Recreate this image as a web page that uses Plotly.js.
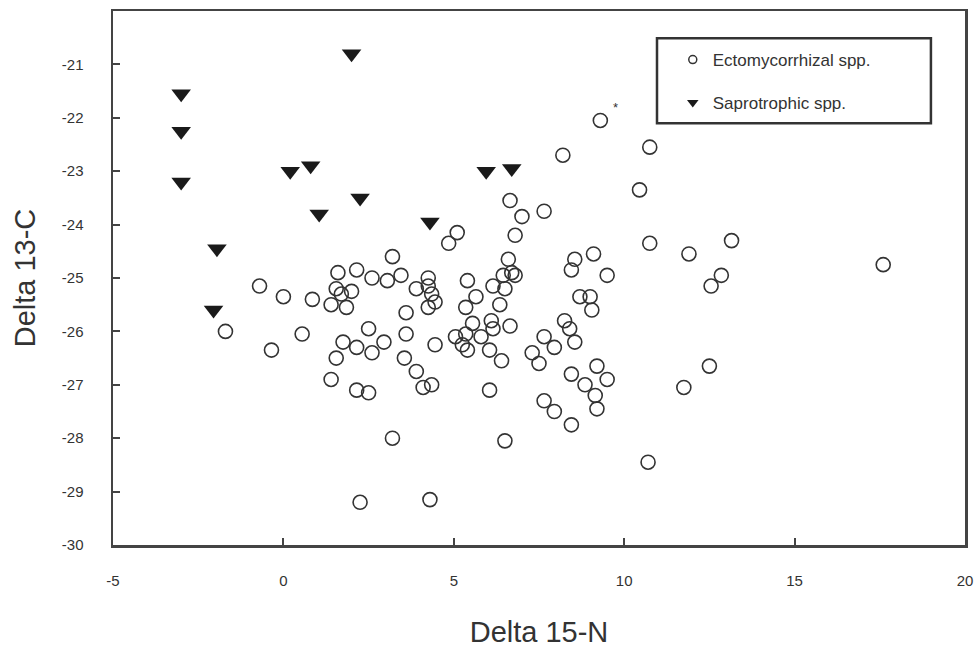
<!DOCTYPE html>
<html>
<head>
<meta charset="utf-8">
<script src="https://cdn.plot.ly/plotly-3.0.1.min.js"></script>
<style>html,body{margin:0;padding:0;background:#fff;}#chart{width:979px;height:651px;}</style>
</head>
<body>
<div id="chart"></div>
<script>
// Ectomycorrhizal spp. (Delta 15-N, Delta 13-C)
const ectoN = [9.3, 8.2, 10.75, 10.45, 6.65, 7.65, 7.0, 6.8, 5.1, 4.85, 3.2, 10.75, 9.1, 8.55, 8.45, 9.5, 13.15, 11.9, 17.6, 12.85, 12.55, 12.5, 11.75, 10.7,
  -0.7, 0.0, 0.85, -1.7, 0.55, -0.35, 1.6, 2.15, 2.6, 3.05, 3.45, 1.55, 1.7, 2.0, 1.4, 1.85, 2.5, 2.95, 1.75, 2.15, 2.6, 1.55, 1.4, 2.15, 2.5, 3.2, 2.25,
  3.9, 4.25, 4.25, 4.35, 4.45, 4.25, 3.6, 3.6, 4.45, 3.55, 3.9, 4.1, 4.35, 4.3, 5.4, 5.65, 5.35, 5.55, 5.05, 5.35, 5.25, 5.4, 5.8, 6.05, 6.4,
  6.6, 6.45, 6.7, 6.8, 6.15, 6.5, 6.35, 6.1, 6.15, 6.65, 6.05, 6.5,
  8.7, 9.0, 9.05, 8.25, 8.4, 8.55, 7.65, 7.95, 7.3, 7.5, 8.45, 8.85, 9.2, 9.5, 9.15, 9.2, 7.65, 7.95, 8.45];
const ectoC = [-22.05, -22.7, -22.55, -23.35, -23.55, -23.75, -23.85, -24.2, -24.15, -24.35, -24.6, -24.35, -24.55, -24.65, -24.85, -24.95, -24.3, -24.55, -24.75, -24.95, -25.15, -26.65, -27.05, -28.45,
  -25.15, -25.35, -25.4, -26.0, -26.05, -26.35, -24.9, -24.85, -25.0, -25.05, -24.95, -25.2, -25.3, -25.25, -25.5, -25.55, -25.95, -26.2, -26.2, -26.3, -26.4, -26.5, -26.9, -27.1, -27.15, -28.0, -29.2,
  -25.2, -25.0, -25.15, -25.3, -25.45, -25.55, -25.65, -26.05, -26.25, -26.5, -26.75, -27.05, -27.0, -29.15, -25.05, -25.35, -25.55, -25.85, -26.1, -26.05, -26.25, -26.35, -26.1, -26.35, -26.55,
  -24.65, -24.95, -24.9, -24.95, -25.15, -25.2, -25.5, -25.8, -25.95, -25.9, -27.1, -28.05,
  -25.35, -25.35, -25.6, -25.8, -25.95, -26.2, -26.1, -26.3, -26.4, -26.6, -26.8, -27.0, -26.65, -26.9, -27.2, -27.45, -27.3, -27.5, -27.75];
// Saprotrophic spp.
const saproN = [2.0, -3.0, -3.0, -3.0, 0.2, 0.8, 1.05, 2.25, -1.95, -2.05, 4.3, 5.95, 6.7];
const saproC = [-20.8, -21.55, -22.25, -23.2, -23.0, -22.9, -23.8, -23.5, -24.45, -25.6, -23.95, -23.0, -22.95];

const xTicks = [-5, 0, 5, 10, 15, 20];
const yTicks = [-30, -29, -28, -27, -26, -25, -24, -23, -22, -21];
const legendNames = ['Ectomycorrhizal spp.', 'Saprotrophic spp.'];

const NARROW = '"Liberation Sans Narrow", "Liberation Sans", Arial, sans-serif';
const SANS = '"Liberation Sans", Arial, sans-serif';
const INK = '#333333';

const traces = [
  {x: ectoN, y: ectoC, type: 'scatter', mode: 'markers', showlegend: false, hoverinfo: 'x+y',
   marker: {symbol: 'circle-open', size: 14, color: INK, line: {width: 1.6, color: INK}}},
  {x: saproN, y: saproC, type: 'scatter', mode: 'markers', showlegend: false, hoverinfo: 'x+y',
   marker: {symbol: 'triangle-down', size: 17, color: '#1a1a1a', line: {width: 0}}},
  {x: [null], y: [null], type: 'scatter', mode: 'markers', name: legendNames[0], legendgroup: 'a',
   marker: {symbol: 'circle-open', size: 8, color: INK, line: {width: 1.5, color: INK}}},
  {x: [null], y: [null], type: 'scatter', mode: 'markers', name: legendNames[1], legendgroup: 'b',
   marker: {symbol: 'triangle-down', size: 10, color: '#1a1a1a'}}
];

const axisCommon = {
  showgrid: false, zeroline: false, showline: true, linecolor: '#444', linewidth: 2.5, mirror: true,
  ticks: 'inside', ticklen: 7, tickwidth: 2, tickcolor: '#444',
  tickfont: {family: NARROW, size: 15, color: INK}
};

const layout = {
  width: 979, height: 651,
  margin: {l: 113, r: 14, t: 11, b: 106},
  paper_bgcolor: '#fff', plot_bgcolor: '#fff',
  font: {family: SANS, color: INK},
  xaxis: Object.assign({}, axisCommon, {
    range: [-5, 20], tickvals: xTicks, ticktext: xTicks.map(String), ticklabelstandoff: 20,
    title: {text: 'Delta 15-N', font: {family: SANS, size: 29, color: INK}, standoff: 34}
  }),
  yaxis: Object.assign({}, axisCommon, {
    range: [-30, -20], tickvals: yTicks, ticktext: yTicks.map(String), ticklabelstandoff: 24,
    title: {text: 'Delta 13-C', font: {family: SANS, size: 29, color: INK}, standoff: 18}
  }),
  showlegend: true,
  legend: {
    x: 0.657, y: 0.942, xanchor: 'left', yanchor: 'top',
    bgcolor: 'rgba(0,0,0,0)', borderwidth: 0,
    traceorder: 'grouped', tracegroupgap: 18,
    font: {family: SANS, size: 17, color: INK}
  },
  shapes: [{type: 'rect', xref: 'paper', yref: 'paper', x0: 0.6385, x1: 0.960, y0: 0.790, y1: 0.949,
            line: {color: '#333', width: 2.5}, fillcolor: 'rgba(0,0,0,0)'}],
  annotations: [{x: 9.74, y: -21.8, xref: 'x', yref: 'y', text: '*', showarrow: false,
                 font: {family: SANS, size: 13, color: INK}}]
};

Plotly.newPlot('chart', traces, layout, {displayModeBar: false, staticPlot: true});
</script>
</body>
</html>
